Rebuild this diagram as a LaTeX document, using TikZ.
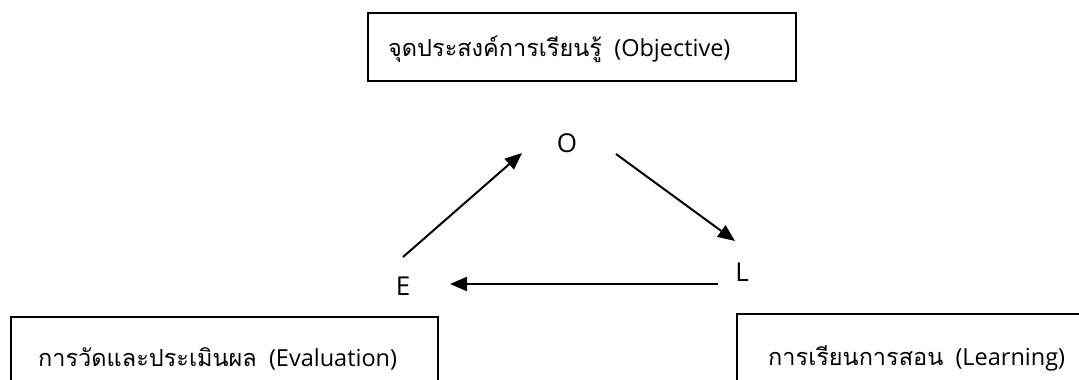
\documentclass[tikz,border=0pt]{standalone}
\usepackage{fontspec}
\setmainfont{Open Sans}
\newfontfamily\thai[Script=Thai]{Loma}
\usetikzlibrary{arrows.meta}
\tikzset{
  box/.style={draw=black, line width=2pt, fill=none},
  lbl/.style={inner sep=0pt, anchor=base west, font=\fontsize{23.5}{28}\selectfont},
  letter/.style={inner sep=0pt, font=\fontsize{26}{30}\selectfont},
  conn/.style={line width=2pt, -{Triangle[length=17pt,width=14pt]}}
}
\begin{document}
\begin{tikzpicture}[x=1pt,y=-1pt]
\useasboundingbox (0,0) rectangle (1079,380);
\clip (0,0) rectangle (1079,380);
% boxes
\draw[box] (368,13) rectangle (796,81);
\draw[box] (11,317) rectangle (438,400);
\draw[box] (737,314) rectangle (1100,400);
% labels
\node[lbl] (tObj) at (388,56) {{\thai จุดประสงค์การเรียนรู้}\ \ (Objective)};
\node[lbl] (tEva) at (38,366) {{\thai การวัดและประเมินผล}\ \ (Evaluation)};
\node[lbl] (tLea) at (768,365) {{\thai การเรียนการสอน}\ \ (Learning)};
% letters
\node[letter] (O) at (567,143) {O};
\node[letter] (L) at (742,272) {L};
\node[letter] (E) at (403,286) {E};
\coordinate (e1) at (403,257);
\coordinate (o1) at (522,153);
\coordinate (o2) at (616,154);
\coordinate (l1) at (735,241);
\coordinate (l2) at (718,284);
\coordinate (e2) at (450,284);
\draw[conn] (e1) -- (o1);
\draw[conn] (o2) -- (l1);
\draw[conn] (l2) -- (e2);
\end{tikzpicture}
\end{document}
